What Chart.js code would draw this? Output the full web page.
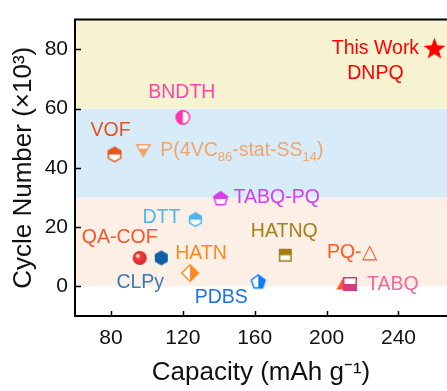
<!DOCTYPE html>
<html>
<head>
<meta charset="utf-8">
<script src="https://cdn.jsdelivr.net/npm/chart.js@4.4.1/dist/chart.umd.min.js"></script>
<style>
  html, body { margin: 0; padding: 0; background: #fff; overflow: hidden; }
  #wrap { width: 447px; height: 391px; position: relative; }
</style>
</head>
<body>
<div id="wrap"><canvas id="chart"></canvas></div>
<script>
// capacity (mAh/g) vs cycle life (x1000) for organic electrode materials
const materials = ['DNPQ', 'BNDTH', 'VOF', 'P(4VC86-stat-SS14)', 'TABQ-PQ', 'DTT', 'QA-COF',
                   'CLPy', 'HATN', 'PDBS', 'HATNQ', 'PQ-\u25B3', 'TABQ'];
const capacity = [260, 120, 82, 98, 141, 127, 96, 108, 124, 162, 177, 209, 213];
const cycles   = [80, 57, 44.5, 46.5, 29.5, 22.5, 9.6, 9.6, 4.5, 1.4, 10.5, 0.2, 0.8];
const xTicks = [80, 120, 160, 200, 240];
const yTicks = [0, 20, 40, 60, 80];
const bandEdges = [0, 30, 60, 90];

const FONT = "'Liberation Sans', Arial, sans-serif";
const bandColors = ['#fcefe6', '#d7ebf8', '#f7f3d1'];

// marker look for each material, same order as above
const markerSpec = [
  { shape: 'star',     size: 23, color: '#ff0000', fill: 'full' },
  { shape: 'circle',   size: 15, color: '#ff33a8', fill: 'left' },
  { shape: 'hexagon',  size: 16, color: '#e8561f', fill: 'top' },
  { shape: 'triDown',  size: 17, color: '#f4a266', fill: 'bottom' },
  { shape: 'pentagon', size: 16, color: '#d63cf0', fill: 'top' },
  { shape: 'hexagon',  size: 15, color: '#4db4f2', fill: 'top' },
  { shape: 'sphere',   size: 14, color: '#f03c3c', fill: 'full' },
  { shape: 'hexagon',  size: 15, color: '#0f5fa6', fill: 'full' },
  { shape: 'diamond',  size: 18, color: '#ff8a1f', fill: 'right' },
  { shape: 'pentagon', size: 16, color: '#0a7cf5', fill: 'right' },
  { shape: 'square',   size: 13, color: '#a57d14', fill: 'top' },
  { shape: 'triUp',    size: 15, color: '#ff5520', fill: 'full' },
  { shape: 'square',   size: 14, color: '#d43c80', fill: 'bottom' }
];

// text next to each marker: offset in px from the point
const labelLayout = [
  { i: 0,  dx: -59, dy: -2,  align: 'center', color: '#ff0000', parts: [['This Work']] },
  { i: 0,  dx: -59, dy: 23,  align: 'center', color: '#ff0000', parts: [['DNPQ']] },
  { i: 1,  dx: -1,  dy: -26, align: 'center', color: '#ff45aa', parts: [['BNDTH']] },
  { i: 2,  dx: -4,  dy: -25, align: 'center', color: '#e0561c', parts: [['VOF']] },
  { i: 3,  dx: 17,  dy: 0,   align: 'left',   color: '#f2a46c',
    parts: [['P(4VC'], ['86', true], ['-stat-SS'], ['14', true], [')']] },
  { i: 4,  dx: 13,  dy: -3,  align: 'left',   color: '#d23ff0', parts: [['TABQ-PQ']] },
  { i: 5,  dx: -15, dy: -4,  align: 'right',  color: '#50b6f2', parts: [['DTT']] },
  { i: 6,  dx: -20, dy: -22, align: 'center', color: '#f4582c', parts: [['QA-COF']] },
  { i: 7,  dx: -21, dy: 23,  align: 'center', color: '#3a78b6', parts: [['CLPy']] },
  { i: 8,  dx: 11,  dy: -21, align: 'center', color: '#ff8a1c', parts: [['HATN']] },
  { i: 9,  dx: -37, dy: 14,  align: 'center', color: '#1f70ee', parts: [['PDBS']] },
  { i: 10, dx: -1,  dy: -25, align: 'center', color: '#a6801c', parts: [['HATNQ']] },
  { i: 11, dx: 9,   dy: -35, align: 'center', color: '#ff5a26', parts: [['PQ-\u25B3']] },
  { i: 12, dx: 17,  dy: -1,  align: 'left',   color: '#f06a9c', parts: [['TABQ']] }
];

function shapePath(ctx, shape, r) {
  ctx.beginPath();
  if (shape === 'circle' || shape === 'sphere') {
    ctx.arc(0, 0, r, 0, Math.PI * 2);
    return;
  }
  if (shape === 'square') {
    ctx.rect(-r, -r, 2 * r, 2 * r);
    return;
  }
  let n, start, radii;
  if (shape === 'star') { n = 10; start = -Math.PI / 2; radii = [r, r * 0.42]; }
  else if (shape === 'hexagon') { n = 6; start = -Math.PI / 2; radii = [r]; }
  else if (shape === 'pentagon') { n = 5; start = -Math.PI / 2; radii = [r]; }
  else if (shape === 'diamond') { n = 4; start = -Math.PI / 2; radii = [r]; }
  else if (shape === 'triUp') { n = 3; start = -Math.PI / 2; radii = [r]; }
  else { n = 3; start = Math.PI / 2; radii = [r]; }
  for (let k = 0; k < n; k++) {
    const a = start + k * 2 * Math.PI / n;
    const rr = radii[k % radii.length];
    const px = Math.cos(a) * rr, py = Math.sin(a) * rr;
    if (k === 0) ctx.moveTo(px, py); else ctx.lineTo(px, py);
  }
  ctx.closePath();
}

function makeMarker(m) {
  const c = document.createElement('canvas');
  const dim = m.size + 4;
  c.width = dim; c.height = dim;
  const ctx = c.getContext('2d');
  const r = m.size / 2;
  ctx.translate(dim / 2, dim / 2);
  if (m.shape === 'sphere') {
    const g = ctx.createRadialGradient(-r * 0.35, -r * 0.35, 0.5, 0, 0, r);
    g.addColorStop(0, '#ffffff');
    g.addColorStop(0.35, m.color);
    g.addColorStop(1, '#d02828');
    shapePath(ctx, 'circle', r);
    ctx.fillStyle = g;
    ctx.fill();
    return c;
  }
  if (m.fill === 'full') {
    shapePath(ctx, m.shape, r);
    ctx.fillStyle = m.color;
    ctx.fill();
    return c;
  }
  const ri = r - 0.75;
  shapePath(ctx, m.shape, ri);
  ctx.fillStyle = '#fff';
  ctx.fill();
  ctx.save();
  ctx.clip();
  ctx.fillStyle = m.color;
  const R = r + 2;
  if (m.fill === 'top') ctx.fillRect(-R, -R, 2 * R, R);
  else if (m.fill === 'bottom') ctx.fillRect(-R, 0, 2 * R, R);
  else if (m.fill === 'left') ctx.fillRect(-R, -R, R, 2 * R);
  else ctx.fillRect(0, -R, R, 2 * R);
  ctx.restore();
  shapePath(ctx, m.shape, ri);
  ctx.strokeStyle = m.color;
  ctx.lineWidth = 1.5;
  ctx.stroke();
  return c;
}

const markers = markerSpec.map(makeMarker);

// colored cycle-life bands behind the points
const bandPlugin = {
  id: 'bands',
  beforeDatasetsDraw(chart) {
    const { ctx, chartArea, scales: { y } } = chart;
    ctx.save();
    for (let k = 0; k < bandColors.length; k++) {
      const y1 = y.getPixelForValue(bandEdges[k]);
      const y2 = y.getPixelForValue(bandEdges[k + 1]);
      ctx.fillStyle = bandColors[k];
      ctx.fillRect(chartArea.left, y2, chartArea.right - chartArea.left, y1 - y2);
    }
    ctx.restore();
  }
};

// frame (left, top, bottom) with inward tick marks
const framePlugin = {
  id: 'frame',
  afterDatasetsDraw(chart) {
    const { ctx, chartArea: a, scales: { x, y } } = chart;
    ctx.save();
    ctx.strokeStyle = '#000';
    ctx.lineWidth = 2;
    ctx.beginPath();
    ctx.moveTo(a.right + 2, a.top);
    ctx.lineTo(a.left, a.top);
    ctx.lineTo(a.left, a.bottom);
    ctx.lineTo(a.right + 2, a.bottom);
    ctx.stroke();
    ctx.lineWidth = 1.5;
    ctx.beginPath();
    xTicks.forEach(v => {
      const px = Math.round(x.getPixelForValue(v)) + 0.5;
      ctx.moveTo(px, a.bottom);
      ctx.lineTo(px, a.bottom - 5);
    });
    yTicks.forEach(v => {
      const py = Math.round(y.getPixelForValue(v)) + 0.5;
      ctx.moveTo(a.left, py);
      ctx.lineTo(a.left + 6, py);
    });
    ctx.stroke();
    ctx.restore();
  }
};

// material names beside the markers
const labelPlugin = {
  id: 'materialLabels',
  afterDatasetsDraw(chart) {
    const { ctx } = chart;
    const pts = chart.getDatasetMeta(0).data;
    const size = 19.5, subSize = 13;
    ctx.save();
    ctx.textBaseline = 'alphabetic';
    ctx.textAlign = 'left';
    labelLayout.forEach(l => {
      const p = pts[l.i];
      let w = 0;
      l.parts.forEach(([t, sub]) => {
        ctx.font = (sub ? subSize : size) + 'px ' + FONT;
        w += ctx.measureText(t).width;
      });
      let cx = p.x + l.dx;
      if (l.align === 'center') cx -= w / 2;
      else if (l.align === 'right') cx -= w;
      const base = p.y + l.dy + size * 0.358;
      ctx.fillStyle = l.color;
      l.parts.forEach(([t, sub]) => {
        ctx.font = (sub ? subSize : size) + 'px ' + FONT;
        ctx.fillText(t, cx, sub ? base + 5 : base);
        cx += ctx.measureText(t).width;
      });
    });
    ctx.restore();
  }
};

new Chart(document.getElementById('chart'), {
  type: 'scatter',
  data: {
    labels: materials,
    datasets: [{
      label: 'Materials',
      data: capacity.map((c, k) => ({ x: c, y: cycles[k] })),
      pointStyle: markers,
      pointRadius: 8,
      pointHoverRadius: 8
    }]
  },
  options: {
    responsive: true,
    maintainAspectRatio: false,
    animation: false,
    events: [],
    layout: { autoPadding: false, padding: { top: 13, right: 0, left: 0, bottom: 0 } },
    plugins: { legend: { display: false }, tooltip: { enabled: false } },
    scales: {
      x: {
        type: 'linear', min: 60, max: 267,
        afterBuildTicks: s => { s.ticks = xTicks.map(v => ({ value: v })); },
        afterFit: s => { s.height = 75; },
        grid: { display: false, drawTicks: false },
        border: { display: false },
        ticks: { color: '#111', padding: 10, font: { family: FONT, size: 21 } },
        title: { display: true, text: 'Capacity (mAh g\u207B\u00B9)', color: '#111',
                 padding: { top: 0, bottom: 3 }, font: { family: FONT, size: 26 } }
      },
      y: {
        type: 'linear', min: -10, max: 90,
        afterBuildTicks: s => { s.ticks = yTicks.map(v => ({ value: v })); },
        afterFit: s => { s.width = 75; },
        grid: { display: false, drawTicks: false },
        border: { display: false },
        ticks: { color: '#111', padding: 7, font: { family: FONT, size: 21 } },
        title: { display: true, text: 'Cycle Number (\u00D710\u00B3)', color: '#111',
                 padding: { top: 8, bottom: 0 }, font: { family: FONT, size: 26 } }
      }
    }
  },
  plugins: [bandPlugin, framePlugin, labelPlugin]
});
</script>
</body>
</html>
